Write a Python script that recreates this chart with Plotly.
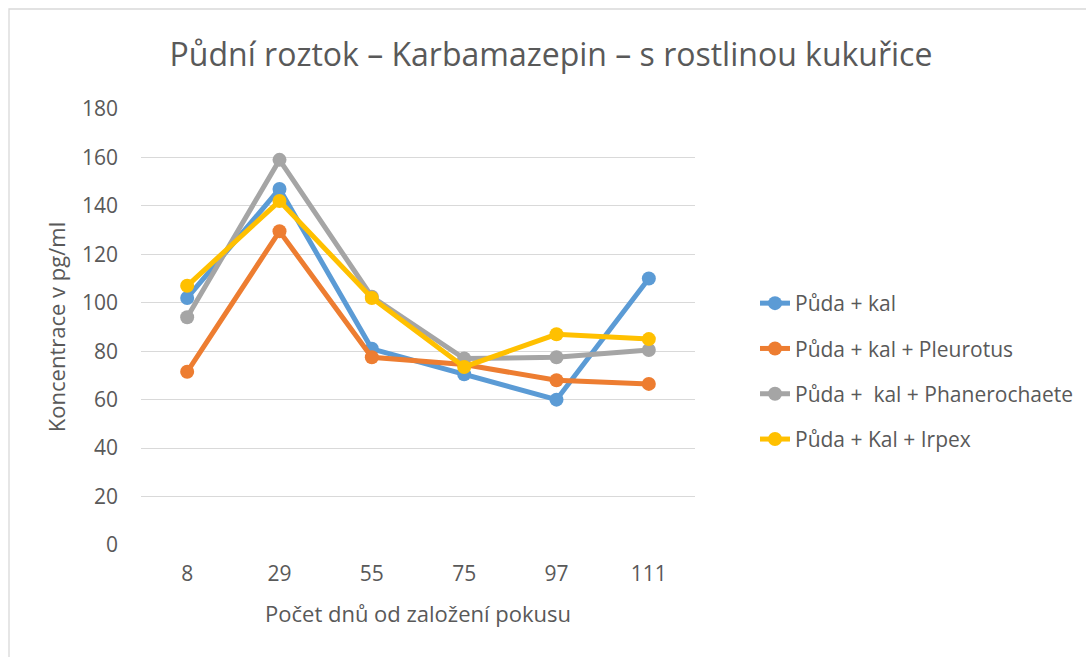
import plotly.graph_objects as go

days = ["8", "29", "55", "75", "97", "111"]
puda_kal = [102, 147, 81, 70.5, 60, 110]
pleurotus = [71.5, 129.5, 77.5, 74.5, 68, 66.5]
phanerochaete = [94, 159, 102.5, 77, 77.5, 80.5]
irpex = [107, 142, 102, 73.5, 87, 85]

series = [
    ("Půda + kal", puda_kal, "#5B9BD5"),
    ("Půda + kal + Pleurotus", pleurotus, "#ED7D31"),
    ("Půda +  kal + Phanerochaete", phanerochaete, "#A5A5A5"),
    ("Půda + Kal + Irpex", irpex, "#FFC000"),
]

font = "Open Sans, sans-serif"
txt = "#595959"

fig = go.Figure()
for i, (name, vals, col) in enumerate(series):
    fig.add_trace(go.Scatter(
        x=days, y=vals, name=name, mode="lines+markers",
        line=dict(color=col, width=5),
        marker=dict(color=col, size=14),
        legendgroup=f"g{i}",
    ))

fig.update_layout(
    width=1086, height=657,
    margin=dict(l=141, r=391, t=109, b=112, autoexpand=False),
    paper_bgcolor="white", plot_bgcolor="white",
    font=dict(family=font, color=txt, size=21),
    title=dict(text="Půdní roztok – Karbamazepin – s rostlinou kukuřice",
               x=551 / 1086, xanchor="center", y=1 - 55 / 657, yanchor="middle",
               font=dict(size=32, color=txt, family=font)),
    xaxis=dict(type="category", range=[-0.5, 5.5], showgrid=False, zeroline=False, showline=False,
               ticks="", tickfont=dict(size=21, color=txt), automargin=False,
               ticklabelstandoff=14,
               title=dict(text="Počet dnů od založení pokusu", font=dict(size=22, color=txt), standoff=20)),
    yaxis=dict(range=[0, 180], dtick=20, showgrid=True, gridcolor="#D9D9D9", gridwidth=1.3,
               zeroline=False, showline=False, ticks="", ticklen=0, automargin=False,
               ticklabelstandoff=22,
               tickfont=dict(size=21, color=txt),
               title=dict(text="Koncentrace v pg/ml", font=dict(size=22, color=txt), standoff=10)),
    legend=dict(x=(755 - 141) / 554, xanchor="left", y=(546 - 284) / 436, yanchor="top",
                font=dict(size=21, color=txt), tracegroupgap=15, traceorder="grouped",
                bgcolor="rgba(0,0,0,0)"),
    showlegend=True,
)

fig.add_shape(type="rect", xref="paper", yref="paper",
              x0=-(141 - 9) / 554, x1=(1090 - 141) / 554,
              y0=-(665 - 546) / 436, y1=(546 - 10) / 436,
              line=dict(color="#D9D9D9", width=1.3), fillcolor="rgba(0,0,0,0)", layer="below")

fig.write_html("out.html", config={"displayModeBar": False},
               post_script="document.body.style.margin='0px';")
